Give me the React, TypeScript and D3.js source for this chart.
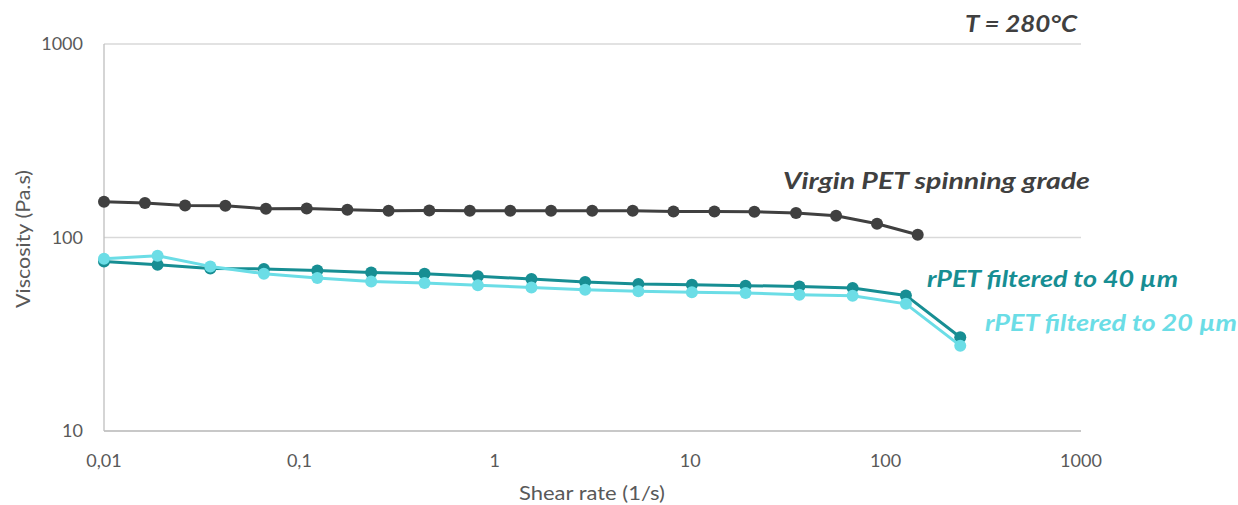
import React from 'react';
import * as d3 from 'd3';

// shear rate (1/s) and viscosity (Pa.s)
const virginRate = [0.01, 0.0162, 0.026, 0.0418, 0.0674, 0.109, 0.176, 0.286, 0.462, 0.745, 1.2, 1.94, 3.15, 5.08, 8.21, 13.3, 21.3, 34.8, 55.8, 90.4, 146];
const virginVisc = [152.9, 150.6, 146.3, 146.0, 140.7, 141.2, 139.0, 137.4, 137.9, 137.4, 137.4, 137.4, 137.4, 137.4, 136.3, 136.3, 135.8, 133.7, 129.5, 117.8, 103.3];

const rpetRate = [0.01, 0.0188, 0.035, 0.0658, 0.1235, 0.233, 0.437, 0.819, 1.54, 2.9, 5.43, 10.2, 19.2, 36.2, 67.8, 127, 241];
const rpet40Visc = [75.2, 72.3, 69.2, 68.8, 67.6, 66.0, 65.0, 63.0, 61.0, 58.9, 57.5, 57.0, 56.4, 55.9, 54.8, 50.2, 30.5];
const rpet20Visc = [77.7, 80.5, 70.9, 65.0, 61.8, 59.3, 58.2, 56.6, 55.2, 53.7, 52.7, 52.1, 51.7, 50.6, 50.0, 45.4, 27.6];

const xTicks = [0.01, 0.1, 1, 10, 100, 1000];
const xTickLabels = ['0,01', '0,1', '1', '10', '100', '1000'];
const yTicks = [10, 100, 1000];

const series = [
  { name: 'Virgin PET spinning grade', x: virginRate, y: virginVisc, color: '#404040', lx: 783, ly: 189, len: 307 },
  { name: 'rPET filtered to 40 µm', x: rpetRate, y: rpet40Visc, color: '#178E93', lx: 927, ly: 287, len: 251 },
  { name: 'rPET filtered to 20 µm', x: rpetRate, y: rpet20Visc, color: '#6BDDE6', lx: 985, ly: 331, len: 252 },
];

const width = 1238;
const height = 505;
const margin = { top: 44, right: 157, bottom: 74, left: 104 };

export default function App() {
  const xScale = d3.scaleLog()
    .domain([0.01, 1000])
    .range([margin.left, width - margin.right]);
  const yScale = d3.scaleLog()
    .domain([10, 1000])
    .range([height - margin.bottom, margin.top]);

  const line = d3.line<[number, number]>()
    .x(d => xScale(d[0]))
    .y(d => yScale(d[1]));

  const axisFont = "'Lato', 'Open Sans', sans-serif";
  const noteFont = "'Lato', 'DejaVu Sans', sans-serif";

  return (
    <svg width={width} height={height} style={{ position: 'absolute', left: 0, top: 0, background: '#fff' }}>
      {/* gridlines */}
      {yTicks.map(t => (
        <line key={t} x1={xScale(0.01)} x2={xScale(1000)} y1={yScale(t)} y2={yScale(t)}
          stroke='#d9d9d9' strokeWidth={1.3} />
      ))}
      <line x1={xScale(0.01)} x2={xScale(0.01)} y1={yScale(10)} y2={yScale(1000)} stroke='#bfbfbf' strokeWidth={1.3} />
      <line x1={xScale(0.01)} x2={xScale(1000)} y1={yScale(10)} y2={yScale(10)} stroke='#bfbfbf' strokeWidth={1.3} />

      {/* tick labels */}
      {yTicks.map(t => (
        <text key={t} x={83} y={yScale(t)} dy='0.35em' textAnchor='end'
          fontFamily={axisFont} fontSize={18} fill='#595959'>{t}</text>
      ))}
      {xTicks.map((t, i) => (
        <text key={t} x={xScale(t)} y={yScale(10) + 36} textAnchor='middle'
          fontFamily={axisFont} fontSize={18} fill='#595959'>{xTickLabels[i]}</text>
      ))}

      <text x={519} y={500} fontFamily={axisFont} fontSize={19.5} fill='#595959'
        textLength={146} lengthAdjust='spacingAndGlyphs'>Shear rate (1/s)</text>
      <text transform={`translate(30, 308) rotate(-90)`} fontFamily={axisFont} fontSize={19.5} fill='#595959'
        textLength={138} lengthAdjust='spacingAndGlyphs'>Viscosity (Pa.s)</text>

      {series.map(s => {
        const pts: [number, number][] = s.x.map((v, i) => [v, s.y[i]]);
        return (
          <g key={s.name}>
            <path d={line(pts) || ''} fill='none' stroke={s.color} strokeWidth={3} strokeLinejoin='round' />
            {pts.map((p, i) => (
              <circle key={i} cx={xScale(p[0])} cy={yScale(p[1])} r={6} fill={s.color} />
            ))}
            <text x={s.lx} y={s.ly} fontFamily={noteFont} fontWeight='bold' fontStyle='italic'
              fontSize={23} fill={s.color} textLength={s.len} lengthAdjust='spacingAndGlyphs'>{s.name}</text>
          </g>
        );
      })}

      <text x={965} y={32} fontFamily={noteFont} fontWeight='bold' fontStyle='italic'
        fontSize={23} fill='#404040' textLength={112} lengthAdjust='spacingAndGlyphs'>T = 280°C</text>
    </svg>
  );
}
